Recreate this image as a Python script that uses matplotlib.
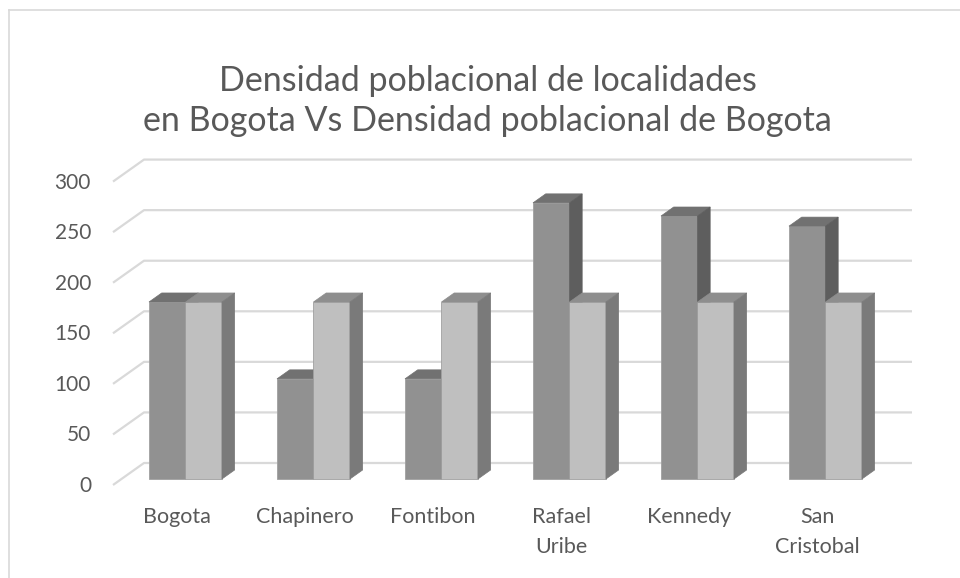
import matplotlib.pyplot as plt
from matplotlib.patches import Polygon
from matplotlib.lines import Line2D

plt.rcParams['font.family'] = ['Lato', 'DejaVu Sans']

# ── data ──────────────────────────────────────────────────────────────────────
categories = ['Bogota', 'Chapinero', 'Fontibon', 'Rafael\nUribe', 'Kennedy', 'San\nCristobal']
localidad  = [175, 99, 99, 273, 260, 250]     # densidad de la localidad
bogota     = [175, 175, 175, 175, 175, 175]   # densidad de Bogota
yticks     = [0, 50, 100, 150, 200, 250, 300]
title = 'Densidad poblacional de localidades\nen Bogota Vs Densidad poblacional de Bogota'

# ── fake 3d geometry (Excel style clustered column) ──────────────────────────
DX, DY    = 0.242, 21.75   # shift per unit of depth, front plane -> back wall
D_BAR     = 0.273          # depth of the bar fronts
BAR_DEPTH = 0.41
W         = 0.285          # bar width in category units

def proj(c, v, d):
    return (c + (d - D_BAR) * DX, v + (d - D_BAR) * DY)

grey_txt = '#595959'
grid_col = '#d9d9d9'
styles = [('#919191', '#717171', '#5e5e5e'),   # localidad: front, top, side
          ('#bfbfbf', '#8e8e8e', '#7a7a7a')]   # bogota

fig = plt.figure(figsize=(9.6, 5.78), dpi=100)
ax = fig.add_axes([0, 0, 1, 1])
ax.set_xlim(-1.449, 6.051)
ax.set_ylim(-97.9, 473.6)
ax.axis('off')

# back wall gridlines + side wall diagonals
left, right = -0.5, len(categories) - 0.5
for v in yticks:
    pts = [proj(left, v, 0), proj(left, v, 1), proj(right, v, 1)]
    ax.plot([p[0] for p in pts], [p[1] for p in pts], color=grid_col, lw=1.6,
            solid_capstyle='butt', zorder=1)
    ax.annotate(str(v), xy=proj(left, v, 0), xytext=(-22, -1), textcoords='offset pixels',
                ha='right', va='center', fontsize=15, color=grey_txt)

def box(x0, h, front, top, side, z):
    ax.bar(x0, h, width=W, align='edge', color=front, edgecolor='#a0a0a0',
           lw=0.6, zorder=z)
    d1 = D_BAR + BAR_DEPTH
    top_pts = [proj(x0, h, D_BAR), proj(x0 + W, h, D_BAR),
               proj(x0 + W, h, d1), proj(x0, h, d1)]
    side_pts = [proj(x0 + W, 0, D_BAR), proj(x0 + W, h, D_BAR),
                proj(x0 + W, h, d1), proj(x0 + W, 0, d1)]
    ax.add_patch(Polygon(top_pts, closed=True, fc=top, ec=top, lw=0.5, zorder=z))
    ax.add_patch(Polygon(side_pts, closed=True, fc=side, ec=side, lw=0.5, zorder=z))

z = 2
for i, cat in enumerate(categories):
    for j, vals in enumerate([localidad, bogota]):
        f, t, s = styles[j]
        box(i - W + j * W, vals[i], f, t, s, z)
        z += 1
    ax.annotate(cat, xy=proj(i, 0, 0), xytext=(0, -22), textcoords='offset pixels',
                ha='center', va='top', fontsize=15.5, color=grey_txt, linespacing=1.62)

fig.text(0.508, 1 - 101 / 578, title, ha='center', va='center', fontsize=24.5,
         color=grey_txt, linespacing=1.32)

# chart frame (only left and top edges visible in the crop)
fig.add_artist(Line2D([9 / 960, 9 / 960], [0, 1 - 10 / 578], color=grid_col, lw=1.2))
fig.add_artist(Line2D([9 / 960, 1], [1 - 10 / 578, 1 - 10 / 578], color=grid_col, lw=1.2))

fig.savefig('out.png', dpi=100)
